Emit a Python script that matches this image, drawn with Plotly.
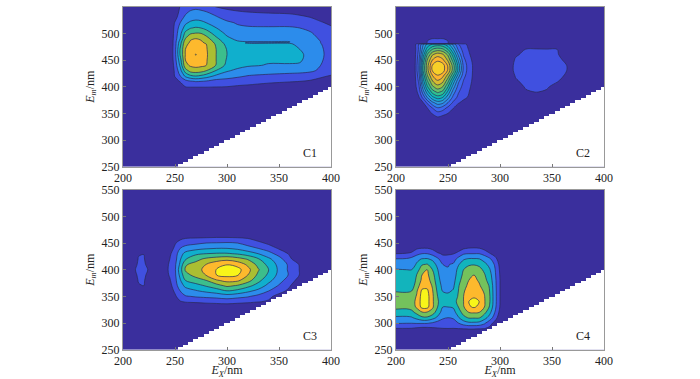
import numpy as np
import plotly.graph_objects as go

# ---------- Component C1 ----------
c1_ex = [200,245,250,255,260,265,270,275,280,290,300,310,320,340,360,370,380,390,400]
c1_em = [250,390,400,410,420,430,440,450,460,470,480,482,484,490,500,510,520,530,540,550]
c1_z = [
[0]*19,
[0]*19,
[0,0,0,0.3,1.0,1.1,1.1,1.1,1.1,1.05,1.0,.9,.85,.7,.6,.5,.4,.3,.2],
[0,0,.5,1.1,1.6,1.9,2.05,2.0,1.9,1.6,1.5,1.4,1.3,1.15,1.05,1.0,.9,.8,.7],
[0,0,1.1,2.0,3.2,3.8,4.0,3.8,3.5,2.75,2.5,2.2,1.95,1.8,1.7,1.6,1.4,1.1,.95],
[0,0,1.2,2.6,4.5,5.4,5.5,5.4,5.0,3.9,3.1,2.8,2.6,2.4,2.3,2.3,2.2,1.8,1.3],
[0,0,1.4,3.2,5.7,6.15,6.3,6.2,6.0,4.9,3.7,3.3,3.1,2.95,2.95,2.9,2.6,2.0,1.4],
[0,0,1.6,3.6,6.0,6.4,6.6,6.4,6.1,4.95,3.9,3.4,3.2,3.1,3.1,3.1,2.7,2.15,1.5],
[0,0,1.7,4.1,6.05,6.5,7.05,6.5,6.15,4.95,4.0,3.6,3.4,3.3,3.2,3.15,2.75,2.2,1.6],
[0,0,1.7,4.1,6.0,6.4,6.7,6.4,6.1,4.95,3.95,3.55,3.3,3.2,3.15,3.0,2.7,2.15,1.6],
[0,0,1.6,3.7,5.8,6.2,6.35,6.2,6.0,4.8,3.7,3.2,3.1,3.1,3.1,2.8,2.5,2.05,1.5],
[0,0,1.6,3.6,5.7,6.15,6.3,6.15,5.9,4.7,3.6,3.15,2.95,2.95,2.95,2.7,2.5,2.0,1.5],
[0,0,1.6,3.5,5.6,6.1,6.25,6.1,5.8,4.6,3.5,3.1,3.03,3.03,3.03,2.7,2.45,2.0,1.5],
[0,0,1.5,3.0,5.0,5.9,6.0,5.9,5.4,4.2,3.2,2.8,2.6,2.55,2.5,2.4,2.3,1.9,1.45],
[0,0,1.4,2.7,4.3,4.9,5.05,5.0,4.6,3.5,2.8,2.5,2.4,2.3,2.3,2.2,2.1,1.7,1.3],
[0,0,1.3,2.4,3.4,3.95,4.1,4.0,3.7,3.0,2.5,2.2,2.1,2.1,2.1,2.0,1.8,1.4,1.15],
[0,0,1.1,2.0,2.8,3.2,3.4,3.3,3.0,2.6,2.2,1.9,1.8,1.7,1.7,1.6,1.5,1.1,.8],
[0,0,.6,1.6,2.2,2.5,2.6,2.5,2.4,2.1,1.6,1.4,1.3,1.2,1.2,1.1,1.0,.7,.5],
[0,0,.3,1.3,1.8,2.15,2.3,2.2,2.05,1.6,1.3,1.1,1.0,.95,.9,.85,.7,.4,.3],
[0,0,0,1.1,1.4,1.6,1.7,1.6,1.3,.95,.7,.6,.5,.5,.5,.4,.2,.1,0],
]

# ---------- Component C2 ----------
c2_ex = [200,218,222,226,230,235,240,245,250,255,260,265,270,275,305,315,325,335,345,355,365,370,400]
c2_em = [250,330,340,350,360,370,380,390,400,410,420,430,440,450,460,470,480,481,490,495,550]
c2_z = [
[0]*23,
[0]*23,
[0,0,0,0,0,.2,.7,.4,0,0,0,0,0,0]+[0]*9,
[0,0,0,0,.5,1.1,1.6,1.4,1.0,.3,0,0,0,0]+[0]*9,
[0,0,0,.3,.95,2.0,2.9,2.5,1.7,1.05,.4,0,0,0]+[0]*9,
[0,0,.3,.9,2.2,3.7,4.5,4.2,3.0,1.8,1.1,.7,.2,0]+[0]*9,
[0,0,.9,2.3,4,5.7,6.5,6.0,4.4,2.7,1.7,1.25,.9,.2]+[0]*9,
[0,.4,1.4,3.5,5.5,7.4,8.2,7.7,5.7,3.5,2.1,1.4,1.05,.4, 0,0,.9,1.02,.9,0,0,0,0],
[0,.6,1.8,4.5,6.8,8.8,9.6,9,7,4.5,2.6,1.6,1.2,.6, 0,.6,1.1,1.2,1.1,.7,0,0,0],
[0,.65,2.2,5.5,7.8,9.9,10.8,10.2,8.2,5.6,3.2,1.9,1.3,.75, 0,.9,1.2,1.3,1.2,1.05,.6,0,0],
[0,.7,2.6,6.2,8.8,10.9,11.8,11.2,9.5,7,4.4,2.3,1.4,.8, .2,1.05,1.25,1.3,1.25,1.15,.9,0,0],
[0,.75,3,7,9.5,12.05,13.0,12.5,10.8,8.5,5.6,2.7,1.5,.8, .3,1.2,1.3,1.35,1.3,1.2,.98,0,0],
[0,.75,3,7,9.5,12.05,13.0,12.5,10.8,8.5,5.6,2.7,1.5,.8, .3,1.2,1.3,1.35,1.3,1.2,.98,0,0],
[0,.7,2.8,6.3,9,11,11.7,11.2,9.8,7.5,4.8,2.3,1.35,.7, .2,1.1,1.25,1.3,1.25,1.15,.85,0,0],
[0,.65,2.5,5.5,8,9.9,10.6,10.2,8.8,6.4,3.8,1.9,1.15,.5, 0,.9,1.2,1.25,1.2,1.05,.7,0,0],
[0,.6,2.2,4.5,6.5,8,8.5,8.2,7,5,2.8,1.5,.95,.2, 0,.5,1.05,1.1,1.05,1.0,0,0,0],
[0,.6,2,3.8,5.2,6,6.3,6.1,5.2,3.6,2,1.2,.8,0]+[0]*9,
[0,0,0,0,1.05,1.1,1.1,1.1,1.05,0,0,0,0,0]+[0]*9,
[0,0,0,0,.95,1.01,1.01,1.01,.95,0,0,0,0,0]+[0]*9,
[0]*23,
[0]*23,
]

# ---------- Component C3 ----------
c3_ex = [200,210,215,220,225,230,240,245,250,255,260,270,280,290,300,310,320,330,340,350,360,370,380,400]
c3_em = [250,320,330,340,350,360,370,380,390,400,410,420,430,440,450,460,470,550]
c3_z = [
[0]*24,
[0]*24,
[0,0,0,0,0,0,0,0,0,0,0,0,.2,.3,.4,.3,.2,.1,0,0,0,0,0,0],
[0,0,0,0,0,0,0,0,.2,.9,1.1,1.2,1.3,1.35,1.4,1.3,1.2,1.05,.9,0,0,0,0,0],
[0,0,0,0,0,0,0,.1,.8,1.6,1.9,2.1,2.2,2.3,2.5,2.3,2.1,1.7,1.2,.7,0,0,0,0],
[0,0,0,0,0,0,0,.4,1.2,2,2.6,2.9,3.2,3.5,3.95,3.7,3.2,2.7,2,1.3,.8,0,0,0],
[0,.1,.9,1,.2,0,.2,.7,1.5,2.6,3.2,3.6,4.1,4.6,5.2,4.9,4.3,3.6,2.7,1.9,1.1,.2,0,0],
[0,.3,1.1,1.1,.5,.1,.4,.9,1.7,2.9,4.0,4.6,5.0,5.9,6.3,6.2,5.4,4.3,3.3,2.4,1.5,.6,0,0],
[0,.6,1.2,1.2,.7,.2,.6,1.1,1.8,3.3,4.7,5.3,6.05,7.0,7.3,7.1,6.0,4.8,3.8,2.7,1.9,.95,.1,0],
[0,.8,1.3,1.3,.9,.3,.7,1.15,1.85,3.6,5.1,5.6,6.3,7.05,7.5,7.4,6.3,5.1,4,2.8,1.8,.95,.2,0],
[0,.5,1.2,1.2,.6,.2,.7,1.1,1.8,3.2,4.9,5.3,6.0,6.6,6.95,6.6,5.8,4.7,3.7,2.7,1.8,.9,.1,0],
[0,.2,1.1,1.1,.4,0,.6,1,1.6,2.9,3.9,4.7,5.2,5.5,5.7,5.4,4.9,4.1,3.2,2.4,1.2,.3,0,0],
[0,0,.9,.98,.1,0,.4,.85,1.5,2.6,3.3,3.8,4.0,4.1,4.1,3.9,3.5,3,2.4,1.6,.9,.2,0,0],
[0,0,0,0,0,0,.1,.5,1.2,2,2.4,2.7,2.9,3,3,2.8,2.4,2.0,1.5,.9,.3,0,0,0],
[0,0,0,0,0,0,0,.2,.9,1.4,1.6,1.8,2,2.05,2.1,2,1.6,1.25,.8,.4,.1,0,0,0],
[0,0,0,0,0,0,0,0,.1,.7,.9,.95,1.0,1.05,1.05,1.0,.9,.5,.3,.1,0,0,0,0],
[0]*24,
[0]*24,
]

# ---------- Component C4 ----------
c4_ex = [200,210,215,220,225,230,235,240,245,250,255,260,265,270,275,280,285,290,295,300,305,400]
c4_em = [250,280,290,300,310,320,330,340,350,360,370,380,390,400,410,420,430,440,450,550]
c4_z = [
[0]*22,
[0]*22,
[1.0,1.0,.98,.85,.75,.75,.85,.95,1.0,1.02,1.0,1.05,1.1,1.15,1.15,1.1,1.05,.8,0,0,0,0],
[2.1,2.05,2.05,2.1,2.1,2.1,1.9,1.6,1.5,1.5,1.6,2,2.5,2.8,2.8,2.7,2.2,1.4,.7,0,0,0],
[2.8,2.8,2.9,3.3,3.8,3.85,3.4,2.8,2.15,2.0,2.1,2.9,3.7,4.1,4.1,4.1,3.4,2.6,1.5,.4,0,0],
[3.7,3.6,3.7,4.3,4.9,4.9,4.5,3.5,2.6,2.4,2.6,3.5,4.4,5.0,5.1,5,4.3,3.3,2,.7,0,0],
[4.2,4.2,4.4,5.2,6.3,6.3,5.2,4.0,3.0,3.0,3.1,4.0,4.9,5.9,6.1,5.8,5,3.9,2.3,.95,0,0],
[4.4,4.4,4.5,5.3,6.4,6.4,5.2,4.1,3.5,3.5,3.7,4.2,5,6.0,6.25,6.0,5.1,4.1,2.4,1,0,0],
[4.3,4.3,4.4,5.1,6.4,6.4,5.2,4.0,3.3,3.25,3.4,4.1,5.0,5.6,5.9,5.5,5.05,4.1,2.4,1.0,0,0],
[3.95,3.9,4.0,4.9,6.2,6.2,5.1,3.8,2.95,2.85,3.1,4.0,4.9,5.4,5.6,5.3,4.9,4.0,2.4,1.0,0,0],
[3.7,3.5,3.5,4.5,5.6,5.7,4.9,3.6,2.7,2.5,2.8,3.9,4.7,5.2,5.4,5.1,4.6,3.9,2.35,1,0,0],
[3.5,3.4,3.4,4.2,5.2,5.4,4.6,3.4,2.5,2.3,2.6,3.7,4.4,5,5.2,4.9,4.3,3.6,2.3,1,0,0],
[3.3,3.2,3.2,4.05,5.0,5.2,4.4,3.2,2.4,2.2,2.4,3.5,4.2,4.8,5.0,4.7,4.1,3.4,2.2,.95,0,0],
[3.05,3,3,3.5,4.6,5.0,4.0,3.05,2.2,2.05,2.3,3.3,4.0,4.3,4.4,4.3,3.8,3.1,2.1,.85,0,0],
[2.6,2.6,2.6,3.1,3.9,4.05,3.5,2.7,2.0,1.95,2.1,2.9,3.5,3.9,3.95,3.8,3.3,2.7,1.9,.7,0,0],
[2.05,2.1,2.3,2.8,3.05,3.1,2.8,2.2,1.45,1.5,1.6,2.3,2.9,3.1,3.1,3.05,2.6,2.2,1.4,.4,0,0],
[1.0,1.1,1.3,1.7,2,2,1.7,1.2,.85,.85,.95,1.4,1.9,2,2,2,1.7,1.1,.6,0,0,0],
[0,0,.2,.9,1.02,1.02,.8,.2,0,0,.1,.4,.9,1.05,1.1,1.05,.7,.2,0,0,0,0],
[0]*22,
[0]*22,
]

# Colour bands, lowest to highest
bands_c1 = ["#3a2f9d","#4050e0","#2c8ceb","#10afcd","#3cbe8c","#aabe32","#fdb92d","#f8f519"]
bands_c3 = ["#3a2f9d","#4050e0","#2c8ceb","#10afcd","#3cbe8c","#aabe32","#fdb92d","#f8f519"]
bands_c4 = ["#3a2f9d","#4050e0","#2c8ceb","#12b4bc","#74c25c","#fdb92d","#f8f519"]
bands_c2 = ["#3a2f9d","#4050e0","#3d66ee","#2f85ea","#2a9ce0","#12aed0","#10b8b0","#30c090",
            "#60c070","#a0c040","#d8bb30","#fdb42e","#f8cf28","#f8f020"]

# Ex sampling of the white unmeasured corner; Em below this limit was not measured
mask_ex = [250,255,260,265,270,275,280,285,290,295,300,305,310,315,320,325,330,335,340,345,350,355,360,365,370,375,380,385,390,395,400]
mask_em = [250,255,260,265,270,275,280,285,290,295,300,305,310,315,320,325,330,335,340,345,350,355,360,365,370,375,380,385,390,395,400]
mask_base = 250

panels = [
    ("C1", c1_ex, c1_em, c1_z, bands_c1, "x",  "y",  (123,331), (6.7,166.7)),
    ("C2", c2_ex, c2_em, c2_z, bands_c2, "x2", "y2", (396,604), (6.7,166.7)),
    ("C3", c3_ex, c3_em, c3_z, bands_c3, "x3", "y3", (123,331), (189.7,349.7)),
    ("C4", c4_ex, c4_em, c4_z, bands_c4, "x4", "y4", (396,604), (189.7,349.7)),
]

W, H = 700, 379
FONT = "Liberation Serif"
fig = go.Figure()
layout = {}
annos = []

for name, ex, em, z, bands, xa, ya, (x0, x1), (y0, y1) in panels:
    n = len(bands)
    scale = [[i/(n-1), c] for i, c in enumerate(bands)]
    fig.add_trace(go.Contour(
        x=ex, y=em, z=z, xaxis=xa, yaxis=ya, showscale=False, colorscale=scale,
        autocontour=False,
        contours=dict(start=1, end=n-1, size=1, coloring="fill", showlines=True),
        line=dict(color="#2a2a55", width=0.7, smoothing=1), hoverinfo="skip"))
    fig.add_trace(go.Bar(
        x=mask_ex, y=[e-mask_base for e in mask_em], base=mask_base, width=5,
        xaxis=xa, yaxis=ya, marker=dict(color="white", line=dict(width=0)), hoverinfo="skip"))
    suf = xa[1:]
    bottom = name in ("C3", "C4")
    layout["xaxis"+suf] = dict(
        domain=[x0/W, x1/W], range=[200,400], anchor=ya, tickvals=[200,250,300,350,400], automargin=False,
        ticks="inside", ticklen=3, tickcolor="#777", tickwidth=1, showgrid=False, zeroline=False,
        showline=True, mirror=True, linecolor="#999", linewidth=1,
        tickfont=dict(family=FONT, size=12, color="#222"),
        title=dict(text="<i>E</i><sub><i>X</i></sub>/nm" if bottom else "",
                   font=dict(family=FONT, size=12, color="#222"), standoff=1))
    layout["yaxis"+suf] = dict(
        domain=[1-y1/H, 1-y0/H], range=[250,550], anchor=xa, tickvals=[250,300,350,400,450,500,550], automargin=False,
        ticks="inside", ticklen=3, tickcolor="#777", tickwidth=1, showgrid=False, zeroline=False,
        showline=True, mirror=True, linecolor="#999", linewidth=1,
        tickfont=dict(family=FONT, size=12, color="#222"),
        title=dict(text="<i>E</i><sub><i>m</i></sub>/nm",
                   font=dict(family=FONT, size=12, color="#222"), standoff=4))
    annos.append(dict(x=380, y=276, xref=xa, yref=ya, text=name, showarrow=False,
                      font=dict(family=FONT, size=12, color="#222")))

fig.update_layout(width=W, height=H, margin=dict(l=0,r=0,t=0,b=0), paper_bgcolor="white",
                  plot_bgcolor="white", showlegend=False, annotations=annos, barmode="overlay",
                  bargap=0, **layout)
fig.write_html("out.html", config={"displayModeBar": False},
               post_script="document.body.style.margin='0';document.body.style.overflow='hidden';")
